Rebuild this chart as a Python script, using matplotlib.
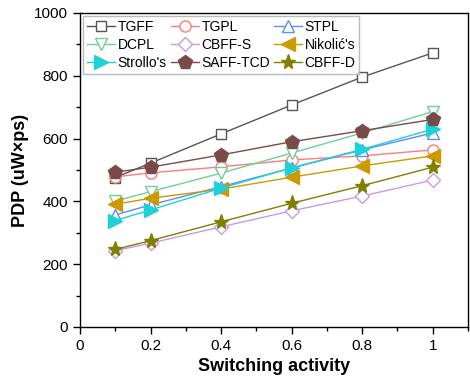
import matplotlib
matplotlib.use("Agg")
import matplotlib.pyplot as plt
from matplotlib.ticker import MultipleLocator

plt.rcParams['font.family'] = ['Liberation Sans', 'DejaVu Sans']

x = [0.1, 0.2, 0.4, 0.6, 0.8, 1.0]
names = ["TGFF", "TGPL", "STPL", "DCPL", "CBFF-S", "Nikolić's", "Strollo's", "SAFF-TCD", "CBFF-D"]
tgff = [476, 522, 615, 707, 796, 873]
tgpl = [478, 491, 510, 532, 545, 564]
stpl = [357, 389, 447, 506, 564, 618]
dcpl = [401, 431, 490, 554, 618, 686]
cbffs = [243, 267, 319, 370, 417, 468]
nikolic = [391, 410, 439, 477, 513, 545]
strollo = [339, 373, 442, 507, 566, 630]
safftcd = [493, 509, 548, 590, 625, 661]
cbffd = [247, 275, 335, 394, 450, 509]

series = [tgff, tgpl, stpl, dcpl, cbffs, nikolic, strollo, safftcd, cbffd]
colors = ["#555555", "#ff7b7b", "#5b8fee", "#6fcf97", "#c49af0", "#cc9900", "#20d0d8", "#7a4a4a", "#808000"]
markers = ["s", "o", "^", "v", "D", "<", ">", "p", "*"]
filled = [False, False, False, False, False, True, True, True, True]
sizes = [7.5, 8, 9, 9, 7, 10, 10, 10, 11]

fig = plt.figure(figsize=(4.7, 3.84), dpi=100)
ax = fig.add_axes([80/470, 1-327/384, 388/470, 314/384])

handles = []
for name, ys, c, m, f, s in zip(names, series, colors, markers, filled, sizes):
    h, = ax.plot(x, ys, color=c, lw=1.0, marker=m, ms=s,
                 markerfacecolor=c if f else 'white', markeredgecolor=c,
                 markeredgewidth=1.0, label=name)
    handles.append(h)

ax.set_xlim(0, 1.1)
ax.set_ylim(0, 1000)
ax.set_xticks([0, 0.2, 0.4, 0.6, 0.8, 1.0])
ax.set_xticklabels(["0", "0.2", "0.4", "0.6", "0.8", "1"])
ax.xaxis.set_minor_locator(MultipleLocator(0.1))
ax.yaxis.set_major_locator(MultipleLocator(200))
ax.yaxis.set_minor_locator(MultipleLocator(100))
ax.tick_params(which='major', direction='out', length=5, width=1, labelsize=11)
ax.tick_params(which='minor', direction='out', length=3, width=1)
for sp in ax.spines.values():
    sp.set_linewidth(1.0)
ax.set_xlabel("Switching activity", fontsize=13, fontweight='bold')
ax.set_ylabel("PDP (uW×ps)", fontsize=13, fontweight='bold')

order = [0, 3, 6, 1, 4, 7, 2, 5, 8]
leg = ax.legend([handles[i] for i in order], [names[i] for i in order],
                ncol=3, loc='upper left', fontsize=10, frameon=True, fancybox=False,
                borderaxespad=0.25, handlelength=2.0, handletextpad=0.2,
                columnspacing=0.3, labelspacing=0.3, borderpad=0.25)
leg.get_frame().set_edgecolor('#aaaaaa')
leg.get_frame().set_linewidth(1.0)

fig.savefig("out.png", dpi=100)
